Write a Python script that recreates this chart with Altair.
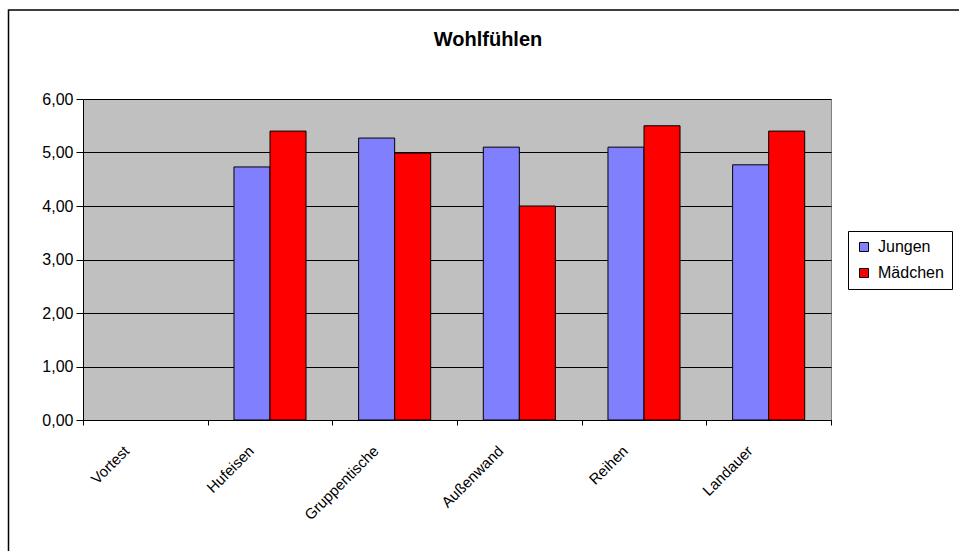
import altair as alt
import pandas as pd

# Kategorien und Mittelwerte je Gruppe
kategorien = ["Vortest", "Hufeisen", "Gruppentische", "Außenwand", "Reihen", "Landauer"]
jungen = [None, 4.73, 5.27, 5.10, 5.10, 4.77]
maedchen = [None, 5.40, 4.99, 4.00, 5.50, 5.40]
gruppen = ["Jungen", "Mädchen"]
farben = ["#8080FF", "#FF0000"]
y_werte = [0, 1, 2, 3, 4, 5, 6]

rows = []
for k, j, m in zip(kategorien, jungen, maedchen):
    rows.append({"Kategorie": k, "Gruppe": gruppen[0], "Wert": j})
    rows.append({"Kategorie": k, "Gruppe": gruppen[1], "Wert": m})
df = pd.DataFrame(rows)

FONT = "Liberation Sans"

# Rahmen um das gesamte Diagramm
rahmen = alt.Chart(pd.DataFrame({"r": [0]})).mark_rect(
    fill="transparent", stroke="black", strokeWidth=1.5
).encode(
    x=alt.value(-74.5), x2=alt.value(1000), y=alt.value(-89), y2=alt.value(700)
)

balken = alt.Chart(df).mark_bar(stroke="black", strokeWidth=1).encode(
    x=alt.X(
        "Kategorie:N",
        sort=kategorien,
        scale=alt.Scale(domain=kategorien, paddingInner=0, paddingOuter=0),
        axis=alt.Axis(
            title=None,
            labelAngle=-45,
            labelAlign="right",
            labelBaseline="top",
            labelFont=FONT,
            labelFontSize=15,
            labelColor="black",
            labelOffset=-24,
            labelPadding=18,
            tickBand="extent",
            tickColor="black",
            tickSize=5,
            domainColor="black",
            grid=False,
        ),
    ),
    xOffset=alt.XOffset(
        "Gruppe:N",
        scale=alt.Scale(domain=gruppen, paddingInner=0, paddingOuter=0.73),
    ),
    y=alt.Y(
        "Wert:Q",
        scale=alt.Scale(domain=[0, 6], nice=False),
        axis=alt.Axis(
            title=None,
            values=y_werte,
            labelExpr="replace(format(datum.value, '.2f'), '.', ',')",
            labelFont=FONT,
            labelFontSize=16,
            labelColor="black",
            labelPadding=3,
            tickColor="black",
            tickSize=7,
            domainColor="black",
            grid=True,
            gridColor="black",
            gridWidth=1,
        ),
    ),
    color=alt.Color(
        "Gruppe:N",
        scale=alt.Scale(domain=gruppen, range=farben),
        legend=alt.Legend(
            title=None,
            orient="none",
            legendX=765,
            legendY=132,
            direction="vertical",
            strokeColor="black",
            fillColor="white",
            padding=8,
            symbolType="square",
            symbolSize=81,
            symbolStrokeColor="black",
            symbolStrokeWidth=1,
            symbolOpacity=1,
            labelFont=FONT,
            labelFontSize=16,
            labelColor="black",
            labelOffset=6,
            rowPadding=10,
        ),
    ),
)

chart = (
    alt.layer(rahmen, balken)
    .properties(
        width=748,
        height=321,
        autosize=alt.AutoSizeParams(type="none"),
        padding={"left": 83, "top": 99, "right": 128, "bottom": 131},
        background="white",
        title=alt.TitleParams(
            "Wohlfühlen",
            font=FONT,
            fontSize=20,
            fontWeight="bold",
            color="black",
            anchor="middle",
            baseline="alphabetic",
            offset=-57,
            dx=31,
        ),
    )
    .configure_view(fill="#C0C0C0", stroke="#808080", strokeWidth=1)
)

chart.save("out.html", embed_options={"renderer": "svg", "actions": False})
